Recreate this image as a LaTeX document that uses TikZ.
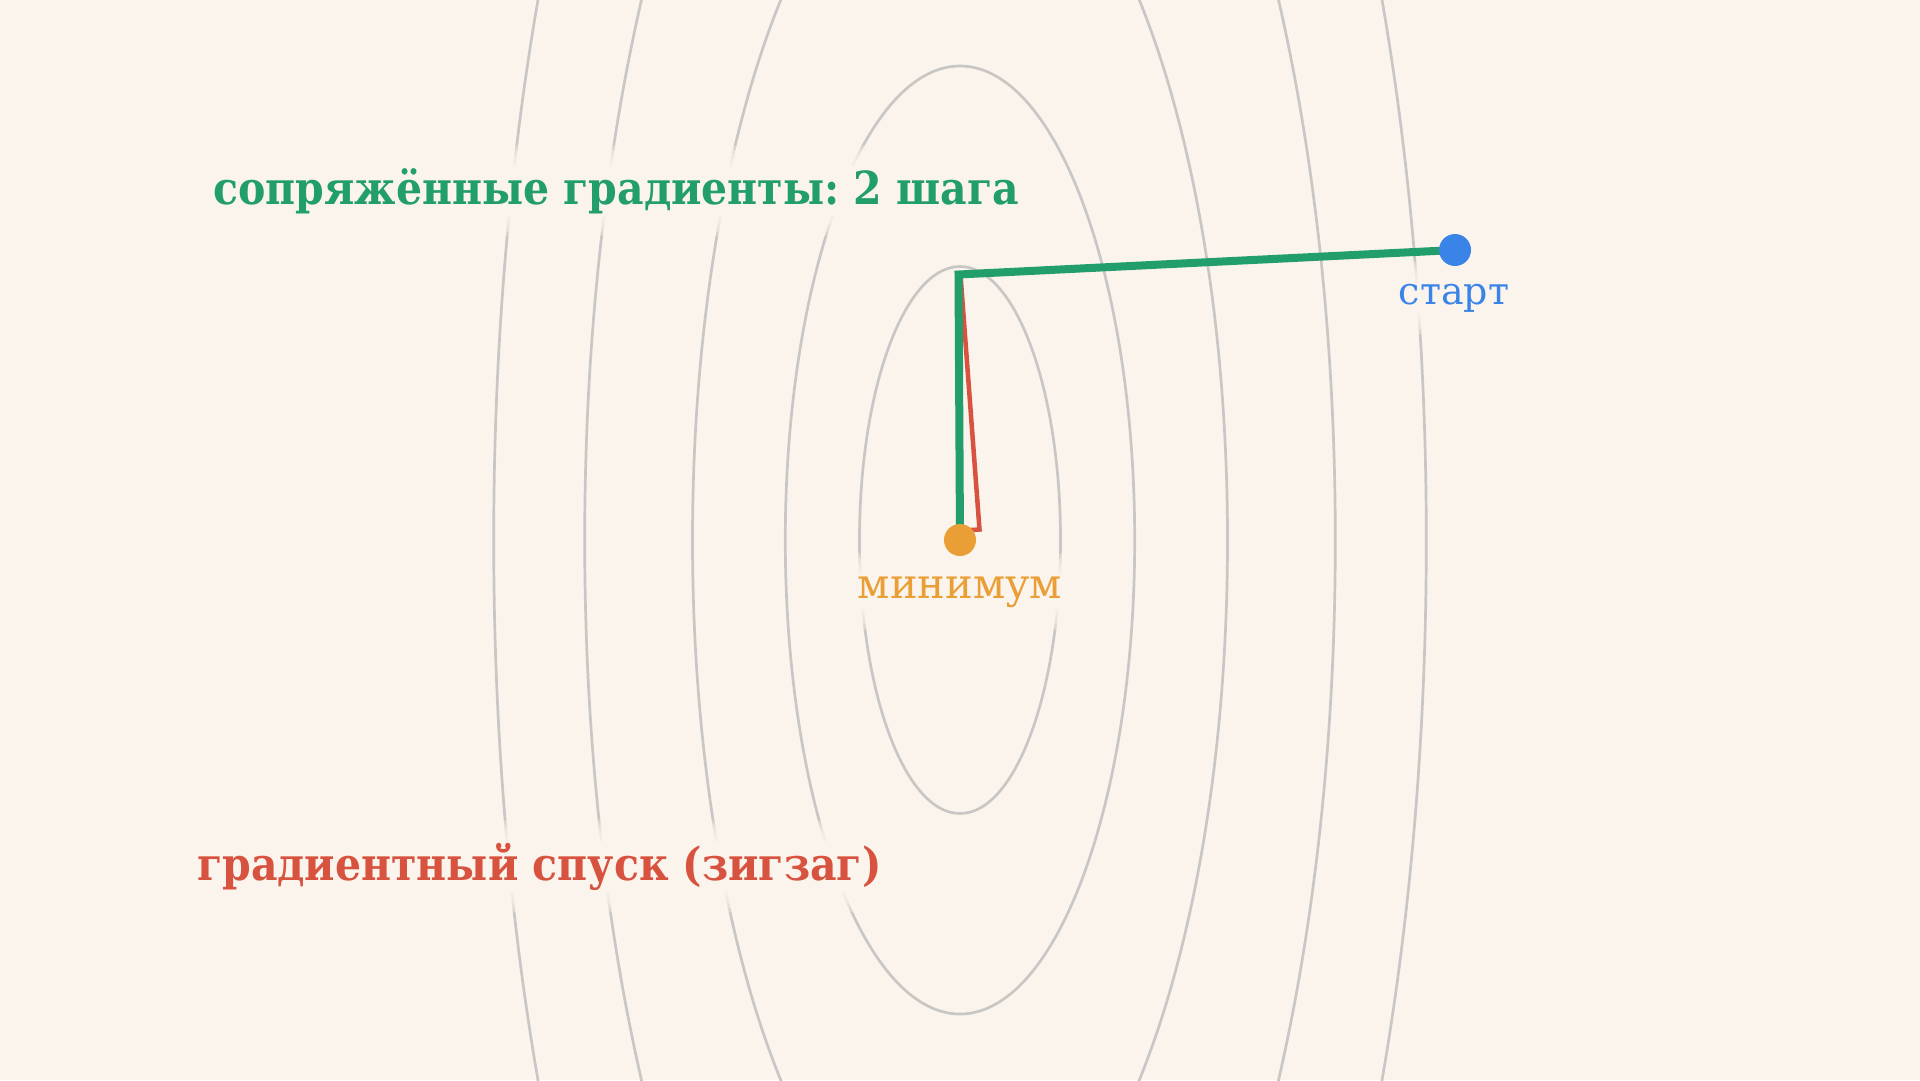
\documentclass[tikz,border=0pt]{standalone}
\usepackage{fontspec}
\setmainfont{DejaVu Serif}
\newfontfamily\condserif{DejaVu Serif Condensed}
\usetikzlibrary{calc}
\frenchspacing
\definecolor{bg}{HTML}{FAF4EC}
\definecolor{contourgray}{HTML}{C9C7C5}
\definecolor{cggreen}{HTML}{219E6B}
\definecolor{gdred}{HTML}{D8533F}
\definecolor{startblue}{HTML}{3A84E8}
\definecolor{minorange}{HTML}{EA9E36}
\pgfdeclarelayer{contourlayer}
\pgfdeclarelayer{halolayer}
\pgfsetlayers{contourlayer,halolayer,main}
\newcommand{\halonode}[1]{%
  \begin{pgfonlayer}{halolayer}
    \fill[bg] ($(#1.south west)+(-2pt,-2pt)$) rectangle ($(#1.north east)+(2pt,2pt)$);
    \foreach \k in {6,10,14,18,22}{
      \fill[bg,opacity=0.35,rounded corners=6pt] ($(#1.south west)+(-\k pt,-\k pt)$) rectangle ($(#1.north east)+(\k pt,\k pt)$);
    }
  \end{pgfonlayer}}
\tikzset{
  contour/.style={draw=contourgray,line width=2.7pt},
  greenpath/.style={draw=cggreen,line width=8pt,line join=miter},
  redpath/.style={draw=gdred,line width=4.5pt,line join=miter},
  dot/.style={circle,inner sep=0pt,minimum size=32pt},
  titletext/.style={inner sep=0pt,font=\condserif\bfseries\fontsize{45.6}{54}\selectfont},
  labeltext/.style={inner sep=0pt},
}
\begin{document}
\begin{tikzpicture}[x=1pt,y=-1pt]
\begin{pgfonlayer}{contourlayer}
  \fill[bg] (0,0) rectangle (1920,1080);
  \begin{scope}
    \clip (0,0) rectangle (1920,1080);
    \draw[contour] (960,540) ellipse [x radius=100.5, y radius=273.5];
    \draw[contour] (960,540) ellipse [x radius=174.7, y radius=474];
    \draw[contour] (960,540) ellipse [x radius=267.5, y radius=727.6];
    \draw[contour] (960,540) ellipse [x radius=375.3, y radius=1020.8];
    \draw[contour] (960,540) ellipse [x radius=466.3, y radius=1268.3];
  \end{scope}
\end{pgfonlayer}
\useasboundingbox (0,0) rectangle (1920,1080);

% points
\coordinate (s) at (1455,250);
\coordinate (m) at (960,540);
\coordinate (g1) at (958.5,274.5);
\coordinate (r1) at (960.5,275);
\coordinate (r2) at (979.5,529.5);
\coordinate (r3) at (962,530.5);

% paths
\draw[redpath] (s) -- (r1) -- (r2) -- (r3) -- (m);
\draw[greenpath] (s) -- (g1) -- (m);

% dots
\node[dot,fill=startblue] (startdot) at (s) {};
\node[dot,fill=minorange] (mindot) at (m) {};

% labels
\node[titletext,text=cggreen,anchor=base west] (cgtitle) at (213,204) {сопряжённые градиенты: 2 шага};
\halonode{cgtitle}
\node[titletext,text=gdred,anchor=base west] (gdtitle) at (197,880) {градиентный спуск (зигзаг)};
\halonode{gdtitle}
\node[labeltext,text=startblue,anchor=base,font=\fontsize{38}{46}\selectfont] (startlbl) at (1454,304) {старт};
\halonode{startlbl}
\node[labeltext,text=minorange,anchor=base,font=\fontsize{41.5}{50}\selectfont] (minlbl) at (960,598) {минимум};
\halonode{minlbl}
\end{tikzpicture}
\end{document}
